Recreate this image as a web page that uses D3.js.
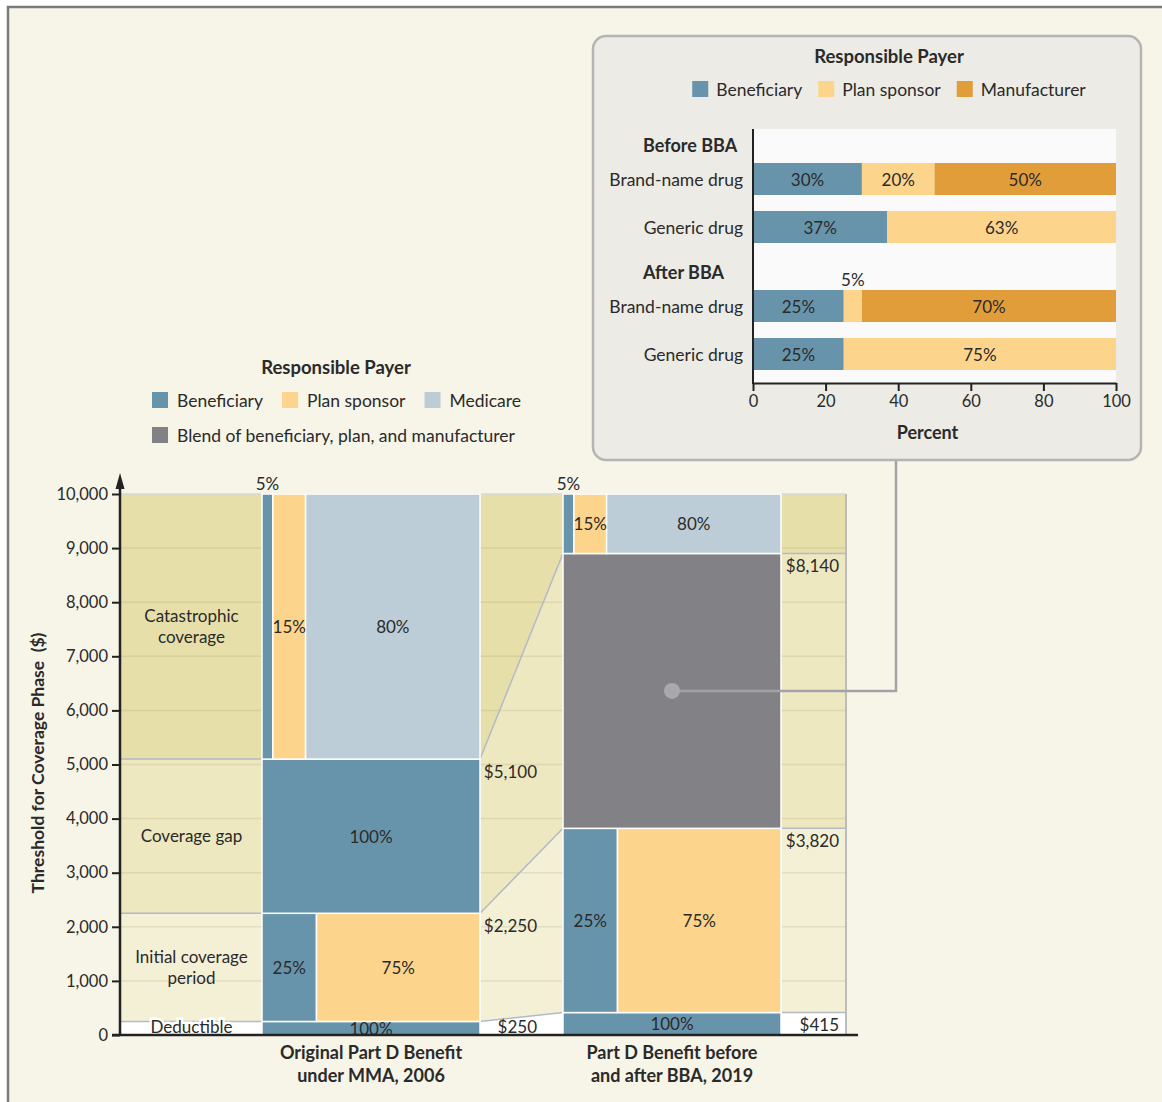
<!DOCTYPE html>
<html lang="en">
<head>
<meta charset="UTF-8" />
<title>Medicare Part D Benefit, 2006 and 2019</title>
<script src="https://d3js.org/d3.v7.min.js"></script>
<style>
  body { margin: 0; background: #fff; }
  svg { display: block; font-family: Lato, "Open Sans", sans-serif; }
  text { fill: #2a2a2a; }
  .bold { font-weight: 700; }
</style>
</head>
<body>
<svg id="chart" width="1162" height="1102"></svg>
<script>
  // ---- main chart data ----
  const columns = ['Original Part D Benefit|under MMA, 2006', 'Part D Benefit before|and after BBA, 2019'];
  const phases = ['Deductible', 'Initial coverage|period', 'Coverage gap', 'Catastrophic|coverage'];
  const bounds2006 = [0, 250, 2250, 5100, 10000];
  const bounds2019 = [0, 415, 3820, 8900, 10000]; // catastrophic start is drawn near 8,900 in the original
  const boundLabels2006 = ['$250', '$2,250', '$5,100'];
  const boundLabels2019 = ['$415', '$3,820', '$8,140'];
  const payers2006 = [['Beneficiary'], ['Beneficiary', 'Plan sponsor'], ['Beneficiary'], ['Beneficiary', 'Plan sponsor', 'Medicare']];
  const shares2006 = [[100], [25, 75], [100], [5, 15, 80]];
  const payers2019 = [['Beneficiary'], ['Beneficiary', 'Plan sponsor'], ['Blend'], ['Beneficiary', 'Plan sponsor', 'Medicare']];
  const shares2019 = [[100], [25, 75], [100], [5, 15, 80]];
  const yTicks = [0, 1000, 2000, 3000, 4000, 5000, 6000, 7000, 8000, 9000, 10000];

  // ---- inset data ----
  const insetGroups = ['Before BBA', 'After BBA'];
  const drugs = ['Brand-name drug', 'Generic drug'];
  const insetPayers = ['Beneficiary', 'Plan sponsor', 'Manufacturer'];
  const beforeBrand = [30, 20, 50];
  const beforeGeneric = [37, 63, 0];
  const afterBrand = [25, 5, 70];
  const afterGeneric = [25, 75, 0];
  const pctTicks = [0, 20, 40, 60, 80, 100];

  const color = {
    'Beneficiary': '#6794ab',
    'Plan sponsor': '#fdd48c',
    'Medicare': '#bccdd8',
    'Blend': '#818186',
    'Manufacturer': '#e29d3b'
  };
  const phaseFill = ['#ffffff', '#f4f0d6', '#ede8c0', '#e6dfaa'];
  const legendNames = { 'Blend': 'Blend of beneficiary, plan, and manufacturer' };

  const svg = d3.select('#chart');

  // page frame
  svg.append('rect').attr('x', 8).attr('y', 7).attr('width', 1154).attr('height', 1095).attr('fill', '#f7f4e8');
  svg.append('path').attr('d', 'M8,1102 V7 H1162').attr('fill', 'none').attr('stroke', '#7b7b7b').attr('stroke-width', 2.5);

  // ---- scales ----
  const y = d3.scaleLinear([0, 10000], [1035, 494]);
  const x = d3.scaleBand(columns, [262, 781]).paddingInner(0.2757);
  const bw = x.bandwidth();
  const leftX = 121, rightX = 846;
  const c0 = x(columns[0]), c1 = x(columns[1]);

  const plot = svg.append('g');

  // left zone bands (2006 thresholds)
  plot.selectAll('rect.left').data(phases).join('rect')
    .attr('x', leftX).attr('width', c0 - leftX)
    .attr('y', (d, i) => y(bounds2006[i + 1]))
    .attr('height', (d, i) => y(bounds2006[i]) - y(bounds2006[i + 1]))
    .attr('fill', (d, i) => phaseFill[i]);

  // gap zone polygons, 2006 -> 2019
  const gx0 = c0 + bw, gx1 = c1;
  plot.selectAll('path.gap').data(phases).join('path')
    .attr('d', (d, i) => `M${gx0},${y(bounds2006[i])} L${gx1},${y(bounds2019[i])} L${gx1},${y(bounds2019[i + 1])} L${gx0},${y(bounds2006[i + 1])} Z`)
    .attr('fill', (d, i) => phaseFill[i]);

  // right zone bands (2019 thresholds)
  plot.selectAll('rect.right').data(phases).join('rect')
    .attr('x', c1 + bw).attr('width', rightX - c1 - bw)
    .attr('y', (d, i) => y(bounds2019[i + 1]))
    .attr('height', (d, i) => y(bounds2019[i]) - y(bounds2019[i + 1]))
    .attr('fill', (d, i) => phaseFill[i]);

  // gridlines
  plot.selectAll('line.grid').data(yTicks.slice(1, -1)).join('line')
    .attr('x1', leftX).attr('x2', rightX)
    .attr('y1', d => y(d)).attr('y2', d => y(d))
    .attr('stroke', 'rgba(140,130,80,0.16)').attr('stroke-width', 1.5);

  // top and right edges
  plot.append('line').attr('x1', leftX).attr('x2', rightX).attr('y1', y(10000)).attr('y2', y(10000))
    .attr('stroke', '#d8d8d2').attr('stroke-width', 1.5);
  plot.append('line').attr('x1', rightX).attr('x2', rightX).attr('y1', y(10000)).attr('y2', y(0))
    .attr('stroke', '#bcbcbc').attr('stroke-width', 2);

  // threshold boundary lines
  const inner = [1, 2, 3];
  const bnd = plot.append('g').attr('stroke', '#b3b9c6').attr('stroke-width', 1.5).attr('fill', 'none');
  inner.forEach(i => {
    bnd.append('line').attr('x1', leftX).attr('x2', c0).attr('y1', y(bounds2006[i])).attr('y2', y(bounds2006[i]));
    bnd.append('line').attr('x1', gx0).attr('x2', gx1).attr('y1', y(bounds2006[i])).attr('y2', y(bounds2019[i]));
    bnd.append('line').attr('x1', c1 + bw).attr('x2', rightX).attr('y1', y(bounds2019[i])).attr('y2', y(bounds2019[i]));
  });

  // stacked column segments
  function segments(colIdx, bounds, payers, shares) {
    const out = [];
    const col = columns[colIdx];
    phases.forEach((p, i) => {
      let acc = 0;
      shares[i].forEach((s, j) => {
        out.push({ col, phase: i, payer: payers[i][j], share: s, start: acc, y0: bounds[i], y1: bounds[i + 1] });
        acc += s;
      });
    });
    return out;
  }
  const segs = segments(0, bounds2006, payers2006, shares2006).concat(segments(1, bounds2019, payers2019, shares2019));
  const sx = d => d3.scaleLinear([0, 100], [x(d.col), x(d.col) + bw]);

  plot.selectAll('rect.seg').data(segs).join('rect')
    .attr('x', d => sx(d)(d.start))
    .attr('width', d => sx(d)(d.start + d.share) - sx(d)(d.start))
    .attr('y', d => y(d.y1))
    .attr('height', d => y(d.y0) - y(d.y1))
    .attr('fill', d => color[d.payer])
    .attr('stroke', '#fff').attr('stroke-width', 1.5);

  plot.selectAll('text.seg').data(segs.filter(d => d.payer !== 'Blend')).join('text')
    .attr('x', d => sx(d)(d.start + d.share / 2))
    .attr('y', d => d.share <= 5 ? y(d.y1) - 11 : (y(d.y0) + y(d.y1)) / 2)
    .attr('text-anchor', 'middle').attr('dominant-baseline', 'central')
    .attr('font-size', 17)
    .text(d => d.share + '%');

  // phase names in left zone
  const phaseText = plot.selectAll('text.phase').data(phases).join('text')
    .attr('x', (leftX + c0) / 2)
    .attr('y', (d, i) => (y(bounds2006[i]) + y(bounds2006[i + 1])) / 2 + (i === 0 ? -1 : 0))
    .attr('text-anchor', 'middle').attr('font-size', 17)
    .attr('stroke', (d, i) => i === 0 ? '#fff' : 'none').attr('stroke-width', 5).attr('paint-order', 'stroke');
  phaseText.each(function (d) {
    const lines = d.split('|');
    const t = d3.select(this);
    lines.forEach((l, k) => {
      t.append('tspan').attr('x', (leftX + c0) / 2)
        .attr('dy', k === 0 ? `${0.35 - (lines.length - 1) * 0.62}em` : '1.24em')
        .text(l);
    });
  });

  // threshold amount labels
  const floorY = y(0) - 9;
  plot.selectAll('text.b06').data(boundLabels2006).join('text')
    .attr('x', gx0 + 57).attr('y', (d, i) => Math.min(y(bounds2006[i + 1]) + 12, floorY))
    .attr('text-anchor', 'end').attr('dominant-baseline', 'central').attr('font-size', 17)
    .text(d => d);
  plot.selectAll('text.b19').data(boundLabels2019).join('text')
    .attr('x', rightX - 7).attr('y', (d, i) => Math.min(y(bounds2019[i + 1]) + 12, floorY))
    .attr('text-anchor', 'end').attr('dominant-baseline', 'central').attr('font-size', 17)
    .text(d => d);

  // y axis
  const yAxis = svg.append('g').attr('transform', `translate(${leftX - 1},0)`)
    .call(d3.axisLeft(y).tickValues(yTicks).tickFormat(d3.format(',')).tickSize(8).tickPadding(4));
  yAxis.select('.domain').remove();
  yAxis.selectAll('.tick line').attr('stroke', '#222').attr('stroke-width', 2);
  yAxis.selectAll('.tick text').attr('font-size', 16.5).attr('font-family', 'Lato, sans-serif').attr('fill', '#2a2a2a');
  svg.append('line').attr('x1', leftX - 1).attr('x2', leftX - 1).attr('y1', y(0) + 1).attr('y2', 484)
    .attr('stroke', '#222').attr('stroke-width', 2.5);
  svg.append('path').attr('d', `M${leftX - 1},473 L${leftX - 5.5},489 L${leftX + 3.5},489 Z`).attr('fill', '#222');

  // x axis baseline
  svg.append('line').attr('x1', 112).attr('x2', 858).attr('y1', y(0)).attr('y2', y(0))
    .attr('stroke', '#222').attr('stroke-width', 2.5);

  // column captions
  svg.selectAll('text.cat').data(columns).join('text')
    .attr('class', 'bold').attr('font-size', 18).attr('text-anchor', 'middle')
    .each(function (d) {
      const t = d3.select(this);
      d.split('|').forEach((l, k) => {
        t.append('tspan').attr('x', x(d) + bw / 2).attr('y', 1059 + k * 23).text(l);
      });
    });

  svg.append('text').attr('class', 'bold').attr('font-size', 17.5)
    .attr('transform', 'translate(44,763) rotate(-90)').attr('text-anchor', 'middle')
    .text('Threshold for Coverage Phase\u00a0\u00a0($)');

  // main legend
  svg.append('text').attr('class', 'bold').attr('x', 336).attr('y', 374).attr('font-size', 18.5)
    .attr('text-anchor', 'middle').text('Responsible Payer');
  const legendRows = [['Beneficiary', 'Plan sponsor', 'Medicare'], ['Blend']];
  legendRows.forEach((row, r) => {
    let lx = 152;
    row.forEach(k => {
      const ly = 392 + r * 35;
      svg.append('rect').attr('x', lx).attr('y', ly).attr('width', 16).attr('height', 16).attr('fill', color[k]);
      const t = svg.append('text').attr('x', lx + 25).attr('y', ly + 8).attr('dominant-baseline', 'central')
        .attr('font-size', 17.5).text(legendNames[k] || k);
      lx += 25 + t.node().getComputedTextLength() + 19;
    });
  });

  // ---- inset ----
  const inset = svg.append('g');
  inset.append('rect').attr('x', 593).attr('y', 36).attr('width', 548).attr('height', 424).attr('rx', 13)
    .attr('fill', '#ecebe5').attr('stroke', '#b4b4b4').attr('stroke-width', 2.5);

  // connector from gray block to inset
  const blend = segs.find(d => d.payer === 'Blend');
  const dotX = x(blend.col) + bw / 2, dotY = (y(blend.y0) + y(blend.y1)) / 2;
  svg.append('path').attr('d', `M896,461 V${dotY} H${dotX}`).attr('fill', 'none')
    .attr('stroke', '#a3a3a7').attr('stroke-width', 2.5);
  svg.append('circle').attr('cx', dotX).attr('cy', dotY).attr('r', 8).attr('fill', '#a9a9ad');

  inset.append('text').attr('class', 'bold').attr('x', 889).attr('y', 63).attr('font-size', 18.5)
    .attr('text-anchor', 'middle').text('Responsible Payer');
  const leg2 = inset.append('g');
  let ix = 0;
  insetPayers.forEach(k => {
    leg2.append('rect').attr('x', ix).attr('y', 81).attr('width', 16).attr('height', 16).attr('fill', color[k]);
    const t = leg2.append('text').attr('x', ix + 24).attr('y', 89).attr('dominant-baseline', 'central')
      .attr('font-size', 17.5).text(k);
    ix += 24 + t.node().getComputedTextLength() + 16;
  });
  leg2.attr('transform', `translate(${889 - (ix - 16) / 2},0)`);

  const xP = d3.scaleLinear([0, 100], [753, 1116]);
  const yG = d3.scaleBand(insetGroups, [129, 383]);
  const yD = d3.scaleBand(drugs, [34, 114]).paddingInner(1 / 3);

  inset.append('rect').attr('x', xP(0)).attr('y', 129).attr('width', xP(100) - xP(0)).attr('height', 383 - 129)
    .attr('fill', '#fafafa');

  const insetRows = [
    { group: 'Before BBA', drug: drugs[0], vals: beforeBrand },
    { group: 'Before BBA', drug: drugs[1], vals: beforeGeneric },
    { group: 'After BBA', drug: drugs[0], vals: afterBrand },
    { group: 'After BBA', drug: drugs[1], vals: afterGeneric }
  ];
  const insetSegs = [];
  insetRows.forEach(r => {
    let acc = 0;
    r.vals.forEach((v, j) => {
      if (v > 0) insetSegs.push({ ...r, payer: insetPayers[j], v, start: acc });
      acc += v;
    });
  });
  const rowY = d => yG(d.group) + yD(d.drug);

  inset.selectAll('rect.ib').data(insetSegs).join('rect')
    .attr('x', d => xP(d.start)).attr('width', d => xP(d.start + d.v) - xP(d.start))
    .attr('y', rowY).attr('height', yD.bandwidth())
    .attr('fill', d => color[d.payer]);
  inset.selectAll('text.ib').data(insetSegs).join('text')
    .attr('x', d => xP(d.start + d.v / 2))
    .attr('y', d => d.v <= 5 ? rowY(d) - 11 : rowY(d) + yD.bandwidth() / 2)
    .attr('text-anchor', 'middle').attr('dominant-baseline', 'central').attr('font-size', 17)
    .text(d => d.v + '%');

  inset.selectAll('text.drug').data(insetRows).join('text')
    .attr('x', 743).attr('y', d => rowY(d) + yD.bandwidth() / 2)
    .attr('text-anchor', 'end').attr('dominant-baseline', 'central').attr('font-size', 17.5)
    .text(d => d.drug);
  inset.selectAll('text.grp').data(insetGroups).join('text')
    .attr('class', 'bold').attr('x', 643).attr('y', d => yG(d) + 16)
    .attr('dominant-baseline', 'central').attr('font-size', 18)
    .text(d => d);

  const xAxis = inset.append('g').attr('transform', 'translate(0,383)')
    .call(d3.axisBottom(xP).tickValues(pctTicks).tickSize(8).tickPadding(4).tickSizeOuter(0));
  xAxis.select('.domain').attr('stroke', '#222').attr('stroke-width', 2);
  xAxis.selectAll('.tick line').attr('stroke', '#222').attr('stroke-width', 2);
  xAxis.selectAll('.tick text').attr('font-size', 16.5).attr('font-family', 'Lato, sans-serif').attr('fill', '#2a2a2a');
  inset.append('line').attr('x1', xP(0)).attr('x2', xP(0)).attr('y1', 129).attr('y2', 384)
    .attr('stroke', '#222').attr('stroke-width', 2);
  inset.append('text').attr('class', 'bold').attr('x', (xP(0) + xP(100)) / 2 - 7).attr('y', 439)
    .attr('text-anchor', 'middle').attr('font-size', 18).text('Percent');
</script>
</body>
</html>
